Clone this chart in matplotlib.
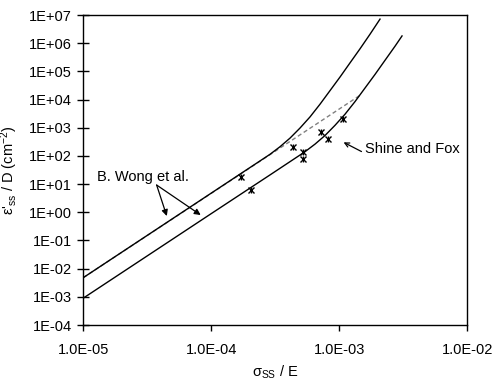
import matplotlib
matplotlib.use("Agg")
import matplotlib.pyplot as plt
from matplotlib.ticker import FixedLocator, FixedFormatter, NullLocator

plt.rcParams["font.family"] = ["Liberation Sans", "DejaVu Sans"]
plt.rcParams["mathtext.fontset"] = "custom"
plt.rcParams["mathtext.rm"] = "Liberation Sans"
plt.rcParams["mathtext.it"] = "Liberation Sans:italic"

# B. Wong et al. - upper curve
wong_upper_x = [1.0e-5, 1.0e-4, 2.0e-4, 2.874e-4, 3.441e-4, 4.119e-4, 4.932e-4,
                5.903e-4, 7.066e-4, 8.459e-4, 1.013e-3, 1.212e-3, 1.451e-3,
                1.737e-3, 2.080e-3]
wong_upper_y = [4.8e-3, 4.8, 38.4, 114, 212, 428, 977,
                2421, 6839, 2.075e4, 6.31e4, 2.00e5, 6.32e5,
                2.08e6, 7.16e6]

# B. Wong et al. - lower curve
wong_lower_x = [1.0e-5, 1.0e-4, 2.88e-4, 5.395e-4, 6.458e-4, 7.731e-4, 9.256e-4,
                1.108e-3, 1.326e-3, 1.588e-3, 1.901e-3, 2.275e-3, 2.724e-3,
                3.09e-3]
wong_lower_y = [9.0e-4, 0.9, 21.3, 141, 262, 530, 1219,
                3020, 8453, 2.57e4, 7.80e4, 2.47e5, 7.81e5,
                1.81e6]

# power-law extension (dashed)
power_x = [1.0e-5, 1.45e-3]
power_y = [4.8e-3, 1.41e4]

# Shine and Fox data points
sf_x = [1.70e-4, 2.03e-4, 4.33e-4, 5.24e-4, 5.24e-4, 7.16e-4, 8.21e-4, 1.06e-3]
sf_y = [17.4, 6.0, 212, 134, 75.7, 722, 388, 2040]

x_ticks = [1e-5, 1e-4, 1e-3, 1e-2]
x_labels = ["1.0E-05", "1.0E-04", "1.0E-03", "1.0E-02"]
y_ticks = [1e-4, 1e-3, 1e-2, 1e-1, 1e0, 1e1, 1e2, 1e3, 1e4, 1e5, 1e6, 1e7]
y_labels = ["1E-04", "1E-03", "1E-02", "1E-01", "1E+00", "1E+01",
            "1E+02", "1E+03", "1E+04", "1E+05", "1E+06", "1E+07"]

fig = plt.figure(figsize=(5.04, 3.86), dpi=100)
ax = fig.add_axes([0.1653, 0.158, 0.7619, 0.8031])

ax.plot(power_x, power_y, color="#808080", lw=1.0, ls=(0, (3, 2)), zorder=2)
ax.plot(wong_upper_x, wong_upper_y, color="black", lw=1.0, zorder=3)
ax.plot(wong_lower_x, wong_lower_y, color="black", lw=1.0, zorder=3)
ax.plot(sf_x, sf_y, ls="none", marker="x", ms=4, mew=1.0, color="black", zorder=4)
ax.plot(sf_x, sf_y, ls="none", marker="|", ms=5, mew=1.0, color="black", zorder=4)

ax.set_xscale("log")
ax.set_yscale("log")
ax.set_xlim(1e-5, 1e-2)
ax.set_ylim(1e-4, 1e7)

ax.xaxis.set_major_locator(FixedLocator(x_ticks))
ax.xaxis.set_major_formatter(FixedFormatter(x_labels))
ax.yaxis.set_major_locator(FixedLocator(y_ticks))
ax.yaxis.set_major_formatter(FixedFormatter(y_labels))
ax.xaxis.set_minor_locator(NullLocator())
ax.yaxis.set_minor_locator(NullLocator())

ax.tick_params(axis="x", direction="out", length=4, width=1, labelsize=10.5, pad=9)
ax.tick_params(axis="y", direction="inout", length=9, width=1, labelsize=10.5, pad=4)

for spine in ax.spines.values():
    spine.set_linewidth(1.0)

ax.set_xlabel(r"σ$_\mathrm{SS}$ / E", fontsize=10.5, labelpad=5)
ax.set_ylabel(r"ε'$_\mathrm{ss}$ / D (cm$^\mathrm{-2}$)", fontsize=10.5, labelpad=6)

# annotations
ax.text(1.28e-5, 17.8, "B. Wong et al.", fontsize=10.5, ha="left", va="center")
ax.annotate("", xy=(4.49e-5, 0.736), xytext=(3.74e-5, 9.27),
            arrowprops=dict(arrowstyle="-|>", color="black", lw=0.9,
                            mutation_scale=9, shrinkA=0, shrinkB=0))
ax.annotate("", xy=(8.26e-5, 0.80), xytext=(3.74e-5, 9.27),
            arrowprops=dict(arrowstyle="-|>", color="black", lw=0.9,
                            mutation_scale=9, shrinkA=0, shrinkB=0))

ax.text(1.59e-3, 176, "Shine and Fox", fontsize=10.5, ha="left", va="center")
ax.annotate("", xy=(1.08e-3, 304), xytext=(1.49e-3, 143),
            arrowprops=dict(arrowstyle="->", color="black", lw=0.9,
                            mutation_scale=8, shrinkA=0, shrinkB=0))

fig.savefig("out.png", dpi=100)
